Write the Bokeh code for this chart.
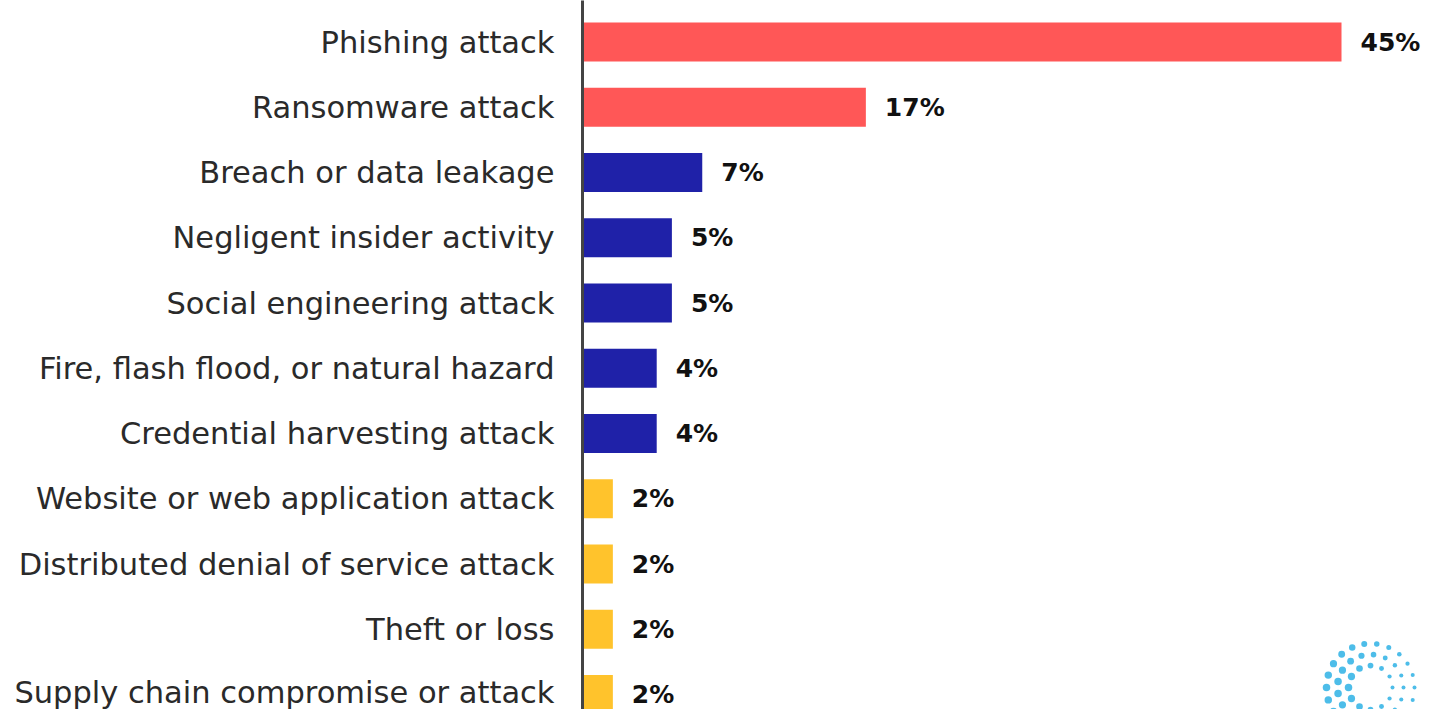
import numpy as np
from bokeh.plotting import figure
from bokeh.models import ColumnDataSource, Range1d, FixedTicker, LabelSet
from bokeh.embed import file_html
from bokeh.resources import INLINE
from bokeh.core.properties import value

categories = [
    "Phishing attack",
    "Ransomware attack",
    "Breach or data leakage",
    "Negligent insider activity",
    "Social engineering attack",
    "Fire, flash flood, or natural hazard",
    "Credential harvesting attack",
    "Website or web application attack",
    "Distributed denial of service attack",
    "Theft or loss",
    "Supply chain compromise or attack",
]
values = [45, 16.8, 7.1, 5.3, 5.3, 4.4, 4.4, 1.8, 1.8, 1.8, 1.8]
labels = ["45%", "17%", "7%", "5%", "5%", "4%", "4%", "2%", "2%", "2%", "2%"]
groups = ["high", "high", "mid", "mid", "mid", "mid", "mid", "low", "low", "low", "low"]

group_colors = {"high": "#FF5757", "mid": "#1F21A8", "low": "#FFC32C"}

n = len(categories)
ypos = [n - 1 - i for i in range(n)]

src = ColumnDataSource(dict(
    y=ypos, value=values, label=labels, cat=categories,
    color=[group_colors[g] for g in groups],
))

W, H = 1421, 709
left_border = 582
unit_px = 65.25
y_start = -15 / unit_px
y_end = y_start + H / unit_px
x_end = 45 * (W - left_border) / (1341.0 - left_border)

p = figure(width=W, height=H, output_backend="svg", toolbar_location=None,
           x_range=Range1d(0, x_end), y_range=Range1d(y_start, y_end),
           min_border_left=left_border, min_border_right=0,
           min_border_top=0, min_border_bottom=0)

p.hbar(y="y", right="value", left=0, height=0.6, color="color", line_color=None, source=src)

vals = LabelSet(x="value", y="y", text="label", source=src, x_offset=19,
                text_baseline="middle", text_align="left",
                text_font=value("DejaVu Sans"), text_font_style="bold",
                text_font_size="25px", text_color="#111111")
p.add_layout(vals)

# decorative dotted logo (bottom right)
cx_px, cy_px = 1370 - left_border, 687
px_x = (W - left_border) / x_end
lx, ly, ls = [], [], []
for r, nd in [(44, 22), (33, 17), (22, 12)]:
    for k in range(nd):
        a = 2 * np.pi * k / nd
        dx, dy = r * np.cos(a), r * np.sin(a)
        lx.append((cx_px + dx) / px_x)
        ly.append(y_start + (H - (cy_px + dy)) / unit_px)
        ls.append(4 + 3.5 * (1 - np.cos(a)) / 2)
p.scatter(x=lx, y=ly, size=ls, color="#4DBDE9", line_color=None)

p.yaxis.ticker = FixedTicker(ticks=ypos)
p.yaxis.major_label_overrides = {y: c for y, c in zip(ypos, categories)}
p.yaxis.major_label_text_font = "DejaVu Sans"
p.yaxis.major_label_text_font_size = "30.5px"
p.yaxis.major_label_text_color = "#2A2A2A"
p.yaxis.major_label_standoff = 22
p.yaxis.major_tick_line_color = None
p.yaxis.minor_tick_line_color = None
p.yaxis.axis_line_color = "#444444"
p.yaxis.axis_line_width = 3
p.xaxis.visible = False
p.xgrid.visible = False
p.ygrid.visible = False
p.outline_line_color = None

open("out.html", "w").write(file_html(p, INLINE))
